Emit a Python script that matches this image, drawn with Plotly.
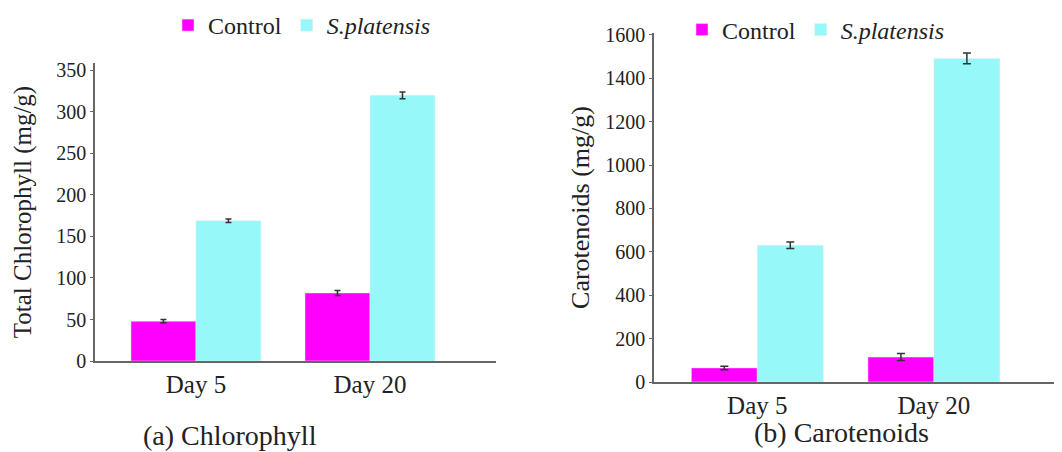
import plotly.graph_objects as go

# ---------------- data ----------------
categories = ["Day 5", "Day 20"]

chl_control = [48, 82]
chl_control_err = [2, 3]
chl_splat = [169, 320]
chl_splat_err = [2, 4]

car_control = [65, 115]
car_control_err = [8, 16]
car_splat = [630, 1492]
car_splat_err = [15, 25]

series_names = ["Control", "<i>S.platensis</i>"]
colors = ["#FF00FF", "#96F8F8"]

chl_ticks = [0, 50, 100, 150, 200, 250, 300, 350]
car_ticks = [0, 200, 400, 600, 800, 1000, 1200, 1400, 1600]

FONT = "Liberation Serif, Times New Roman, serif"
TXT = "#222222"
AX = "#666666"

W, H = 1062, 452


def px_x(p):
    return p / W


def px_y(p):
    return 1 - p / H


def err(arr, w):
    return dict(type="data", array=arr, visible=True, color="#333333", thickness=1.5, width=w)


fig = go.Figure()

fig.add_trace(go.Bar(x=categories, y=chl_control, name=series_names[0], marker_color=colors[0],
                     error_y=err(chl_control_err, 3), xaxis="x", yaxis="y", legend="legend"))
fig.add_trace(go.Bar(x=categories, y=chl_splat, name=series_names[1], marker_color=colors[1],
                     error_y=err(chl_splat_err, 3), xaxis="x", yaxis="y", legend="legend"))
fig.add_trace(go.Bar(x=categories, y=car_control, name=series_names[0], marker_color=colors[0],
                     error_y=err(car_control_err, 4), xaxis="x2", yaxis="y2", legend="legend2"))
fig.add_trace(go.Bar(x=categories, y=car_splat, name=series_names[1], marker_color=colors[1],
                     error_y=err(car_splat_err, 4), xaxis="x2", yaxis="y2", legend="legend2"))

common_x = dict(type="category", showline=True, linecolor=AX, linewidth=1.5, ticks="",
                showgrid=False, zeroline=False, automargin=False,
                tickfont=dict(family=FONT, size=25, color=TXT))
common_y = dict(showline=True, linecolor=AX, linewidth=1.5, ticks="outside", ticklen=3,
                tickcolor=AX, tickwidth=1.2, showgrid=False, zeroline=False, automargin=False,
                tickfont=dict(family=FONT, size=20, color=TXT), tickmode="array")

legend_common = dict(orientation="h", xanchor="left", yanchor="middle",
                     font=dict(family=FONT, size=24, color=TXT), bgcolor="rgba(0,0,0,0)",
                     borderwidth=0, itemclick=False, itemdoubleclick=False)

fig.update_layout(
    width=W, height=H, autosize=False,
    margin=dict(l=0, r=0, t=0, b=0),
    paper_bgcolor="white", plot_bgcolor="white",
    barmode="group", bargap=0.253, bargroupgap=0,
    font=dict(family=FONT, color=TXT),
    xaxis=dict(common_x, domain=[px_x(95), px_x(496)], range=[-0.58, 1.724], anchor="y"),
    yaxis=dict(common_y, domain=[px_y(361), px_y(63)], range=[0, 359], anchor="x",
               tickvals=chl_ticks,
               title=dict(text="Total Chlorophyll (mg/g)", font=dict(family=FONT, size=25, color=TXT),
                          standoff=18)),
    xaxis2=dict(common_x, domain=[px_x(654), px_x(1054)], range=[-0.585, 1.68], anchor="y2"),
    yaxis2=dict(common_y, domain=[px_y(382), px_y(33)], range=[0, 1609], anchor="x2",
                tickvals=car_ticks,
                title=dict(text="Carotenoids (mg/g)", font=dict(family=FONT, size=26, color=TXT),
                           standoff=8)),
    legend=dict(legend_common, x=px_x(168), y=px_y(25.5)),
    legend2=dict(legend_common, x=px_x(682), y=px_y(30)),
    annotations=[
        dict(text="(a) Chlorophyll", xref="paper", yref="paper", x=px_x(230), y=px_y(435),
             xanchor="center", yanchor="middle", showarrow=False,
             font=dict(family=FONT, size=28, color=TXT)),
        dict(text="(b) Carotenoids", xref="paper", yref="paper", x=px_x(841), y=px_y(432),
             xanchor="center", yanchor="middle", showarrow=False,
             font=dict(family=FONT, size=28, color=TXT)),
    ],
)

fig.write_html("out.html", config={"displayModeBar": False},
               post_script="document.body.style.margin='0px';document.body.style.padding='0px';")
